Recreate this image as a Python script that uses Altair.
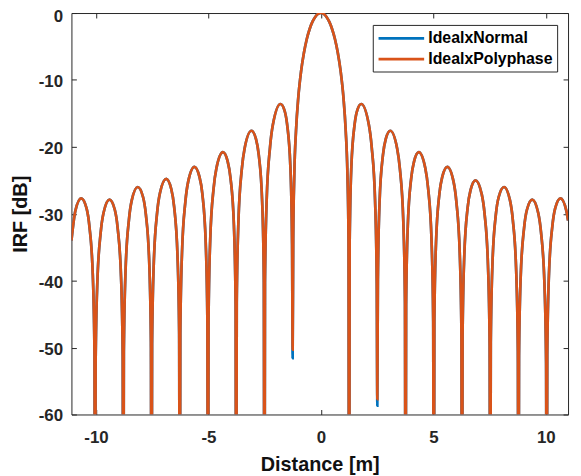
import altair as alt
import pandas as pd

# ---------------- data ----------------
series_names = ["IdealxNormal", "IdealxPolyphase"]
series_colors = ["#0072BD", "#D95319"]

# distance [m], left half (from the left axis edge towards 0)
dist_left = [
    -11.090, -10.919, -10.655, -10.417, -10.291, -10.140, -10.065,
    -10.040,
    -10.015, -9.940, -9.789, -9.664, -9.400, -9.162, -9.036, -8.885, -8.810,
    -8.785,
    -8.760, -8.685, -8.534, -8.409, -8.145, -7.907, -7.781, -7.630, -7.555,
    -7.530,
    -7.505, -7.430, -7.279, -7.154, -6.877, -6.652, -6.526, -6.375, -6.300,
    -6.275,
    -6.250, -6.175, -6.024, -5.899, -5.622, -5.397, -5.271, -5.120, -5.045,
    -5.020,
    -4.995, -4.920, -4.769, -4.644, -4.355, -4.142, -4.016, -3.865, -3.790,
    -3.765,
    -3.740, -3.665, -3.514, -3.389, -3.087, -2.887, -2.761, -2.610, -2.535,
    -2.510,
    -2.485, -2.410, -2.259, -2.134, -1.795, -1.632, -1.506, -1.355, -1.280,
    -1.255,
    -1.230, -1.180, -1.104, -1.004, -0.879, -0.753, -0.628, -0.502, -0.377,
    -0.251, -0.126,
]
irf_left = [
    -34.0, -29.6, -27.7, -29.2, -31.9, -39.2, -51.1,
    -100.0,
    -52.4, -40.4, -32.8, -29.9, -27.9, -29.4, -32.1, -39.4, -51.3,
    -100.0,
    -50.6, -38.6, -30.9, -28.0, -26.0, -27.5, -30.1, -37.4, -49.3,
    -100.0,
    -49.5, -37.5, -29.8, -26.9, -24.8, -26.3, -28.9, -36.2, -48.0,
    -100.0,
    -47.9, -35.9, -28.2, -25.2, -23.0, -24.5, -27.0, -34.3, -46.1,
    -100.0,
    -46.0, -33.9, -26.2, -23.2, -20.8, -22.2, -24.7, -31.8, -43.6,
    -100.0,
    -43.2, -31.1, -23.3, -20.2, -17.6, -18.8, -21.2, -28.2, -39.9,
    -100.0,
    -40.3, -28.0, -20.0, -16.7, -13.6, -14.4, -16.5, -23.0, -34.5,
    -50.3,
    -33.81, -23.95, -17.52, -12.62, -8.69, -5.94, -3.92, -2.42, -1.33,
    -0.58, -0.14,
]

# distance [m], right half (from 0 to the right axis edge)
dist_right = [
    0.0, 0.126, 0.251, 0.377, 0.502, 0.628, 0.753, 0.879, 1.004, 1.104, 1.180, 1.230,
    1.255,
    1.280, 1.355, 1.506, 1.632, 1.795, 2.134, 2.259, 2.410, 2.485,
    2.510,
    2.535, 2.610, 2.761, 2.887, 3.087, 3.389, 3.514, 3.665, 3.740,
    3.765,
    3.790, 3.865, 4.016, 4.142, 4.355, 4.644, 4.769, 4.920, 4.995,
    5.020,
    5.045, 5.120, 5.271, 5.397, 5.622, 5.899, 6.024, 6.175, 6.250,
    6.275,
    6.300, 6.375, 6.526, 6.652, 6.877, 7.154, 7.279, 7.430, 7.505,
    7.530,
    7.555, 7.630, 7.781, 7.907, 8.145, 8.409, 8.534, 8.685, 8.760,
    8.785,
    8.810, 8.885, 9.036, 9.162, 9.400, 9.664, 9.789, 9.940, 10.015,
    10.040,
    10.065, 10.140, 10.291, 10.417, 10.655, 10.919, 10.990,
]
irf_right = [
    0.0, -0.14, -0.58, -1.33, -2.42, -3.92, -5.94, -8.69, -12.62, -17.52, -23.95, -33.81,
    -100.0,
    -34.5, -23.0, -16.5, -14.4, -13.6, -16.7, -20.0, -28.0, -40.3,
    -57.7,
    -39.9, -28.2, -21.2, -18.8, -17.6, -20.2, -23.3, -31.1, -43.2,
    -100.0,
    -43.6, -31.8, -24.7, -22.2, -20.8, -23.2, -26.2, -33.9, -46.0,
    -100.0,
    -46.1, -34.3, -27.0, -24.5, -23.0, -25.2, -28.2, -35.9, -47.9,
    -100.0,
    -48.2, -36.4, -29.1, -26.5, -25.0, -27.1, -30.0, -37.7, -49.7,
    -100.0,
    -49.3, -37.4, -30.1, -27.5, -26.0, -28.0, -30.9, -38.6, -50.6,
    -100.0,
    -51.3, -39.4, -32.1, -29.4, -27.9, -29.9, -32.8, -40.4, -52.4,
    -100.0,
    -51.1, -39.2, -31.9, -29.2, -27.7, -29.6, -31.0,
]

# the "Normal" series differs only at two nulls, where it reaches a bit deeper
normal_null_dist = [-1.255, 2.510]
normal_null_irf = [-51.6, -58.7]

x_ticks = [-10, -5, 0, 5, 10]
y_ticks = [-60, -50, -40, -30, -20, -10, 0]

# ---------------- table ----------------
dist = dist_left + dist_right
irf_poly = irf_left + irf_right
assert len(dist) == len(irf_poly)
irf_norm = list(irf_poly)
for d, v in zip(normal_null_dist, normal_null_irf):
    irf_norm[dist.index(d)] = v

df = pd.concat([
    pd.DataFrame({"dist": dist, "irf": irf_norm, "series": series_names[0]}),
    pd.DataFrame({"dist": dist, "irf": irf_poly, "series": series_names[1]}),
], ignore_index=True)

FONT = "Liberation Sans"
AX = "#262626"
HYPHEN_LABEL = "datum.value < 0 ? '-' + abs(datum.value) : '' + datum.value"

x_scale = alt.Scale(domain=[-11.09, 10.99], nice=False, zero=False)
y_scale = alt.Scale(domain=[-60, 0], nice=False, zero=False)

color = alt.Color(
    "series:N",
    scale=alt.Scale(domain=series_names, range=series_colors),
    legend=alt.Legend(
        title=None, orient="none", legendX=304, legendY=12,
        symbolType="M-1,0H5", symbolSize=235, symbolStrokeWidth=2.7,
        labelFont=FONT, labelFontSize=16, labelFontWeight="bold",
        labelColor="#000000", labelOffset=33, labelLimit=300,
        padding=4, rowPadding=3, strokeColor=AX, fillColor="#ffffff",
        cornerRadius=0,
    ),
)

x_axis = alt.Axis(
    orient="bottom", values=x_ticks, offset=-5, tickSize=5, tickColor=AX,
    domain=False, grid=False, labelFont=FONT, labelFontSize=17,
    labelFontWeight="bold", labelColor=AX, labelPadding=15,
    labelExpr=HYPHEN_LABEL,
    title="Distance [m]", titleFont=FONT, titleFontSize=20,
    titleFontWeight="bold", titleColor="#111111", titleX=250.5, titleY=62,
    titleBaseline="alphabetic", titleAlign="center",
)
y_axis = alt.Axis(
    orient="left", values=y_ticks, offset=-5, tickSize=5, tickColor=AX,
    domain=False, grid=False, labelFont=FONT, labelFontSize=17,
    labelFontWeight="bold", labelColor=AX, labelPadding=9,
    labelOffset={"condition": {"test": "datum.value === 0", "value": 3.5}, "value": 1.5},
    labelExpr=HYPHEN_LABEL,
    title="IRF [dB]", titleFont=FONT, titleFontSize=20,
    titleFontWeight="bold", titleColor="#111111", titleX=-50, titleY=202.5,
    titleAngle=270, titleBaseline="alphabetic", titleAlign="center",
)

base = alt.Chart(df).mark_line(
    strokeWidth=2.7, clip=True, interpolate="monotone"
).encode(
    x=alt.X("dist:Q", scale=x_scale, axis=x_axis),
    y=alt.Y("irf:Q", scale=y_scale, axis=y_axis),
    color=color,
)
blue = base.transform_filter(alt.datum.series == series_names[0])
orange = base.transform_filter(alt.datum.series == series_names[1])
curves = alt.layer(blue, orange)

frame = alt.Chart(df).mark_point(opacity=0, clip=True).encode(
    x=alt.X("dist:Q", scale=x_scale, axis=alt.Axis(
        orient="top", values=x_ticks, offset=-5, tickSize=5, tickColor=AX,
        labels=False, domain=False, grid=False, title=None)),
    y=alt.Y("irf:Q", scale=y_scale, axis=alt.Axis(
        orient="right", values=y_ticks, offset=-5, tickSize=5, tickColor=AX,
        labels=False, domain=False, grid=False, title=None)),
)

chart = alt.layer(curves, frame).properties(
    width=501, height=405,
    padding={"left": 64, "top": 3, "right": 5, "bottom": 60},
    autosize="none",
    background="#ffffff",
).configure_view(stroke=AX, strokeWidth=1)

chart.save("out.html", embed_options={"renderer": "svg", "actions": False})
